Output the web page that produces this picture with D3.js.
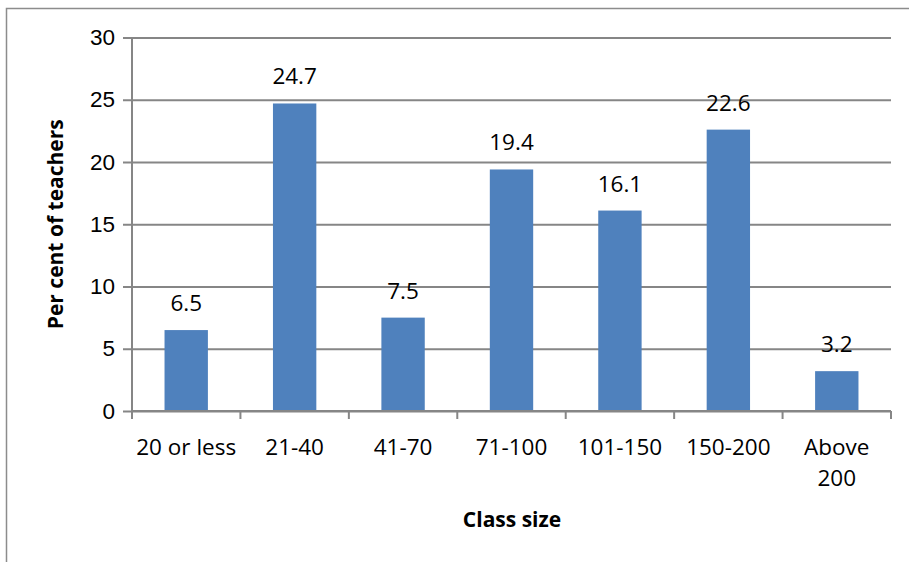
<!DOCTYPE html>
<html>
<head>
<meta charset="utf-8">
<script src="https://cdn.jsdelivr.net/npm/d3@7"></script>
<style>
  html, body { margin: 0; padding: 0; background: #fff; }
  svg { display: block; font-family: "Open Sans", Lato, sans-serif; }
</style>
</head>
<body>
<svg id="chart" width="909" height="562"></svg>
<script>
// Share of teachers by class size
const categories = ["20 or less", "21-40", "41-70", "71-100", "101-150", "150-200", "Above 200"];
const percentValues = [6.5, 24.7, 7.5, 19.4, 16.1, 22.6, 3.2];
const yTicks = [0, 5, 10, 15, 20, 25, 30];

const svg = d3.select("#chart");
const margin = { left: 132, right: 18, top: 37.5, bottom: 151 };
const W = 909, H = 562;
const labelSize = 22.5;

// outer chart frame (runs off the right and bottom edges)
svg.append("rect")
  .attr("x", 6.5).attr("y", 8.5)
  .attr("width", 960).attr("height", 600)
  .attr("fill", "none").attr("stroke", "#8c8c8c").attr("stroke-width", 1.5);

const x = d3.scaleBand()
  .domain(categories)
  .range([margin.left, W - margin.right])
  .paddingInner(0.6).paddingOuter(0.3);

const y = d3.scaleLinear()
  .domain([0, 30])
  .range([H - margin.bottom, margin.top]);

// horizontal gridlines and y axis
const yAxis = d3.axisLeft(y)
  .tickValues(yTicks)
  .tickSize(-(W - margin.right - margin.left))
  .tickPadding(17)
  .tickFormat(d3.format("d"));

const gy = svg.append("g")
  .attr("transform", `translate(${margin.left},0)`)
  .call(yAxis);
gy.select(".domain").remove();
gy.selectAll(".tick line")
  .attr("x1", -9)
  .attr("stroke", "#868686").attr("stroke-width", 2);
gy.selectAll(".tick text")
  .attr("font-size", labelSize).attr("fill", "#000");

// vertical axis line
svg.append("line")
  .attr("x1", margin.left).attr("x2", margin.left)
  .attr("y1", y(30)).attr("y2", y(0))
  .attr("stroke", "#868686").attr("stroke-width", 2);

// bars
svg.append("g").selectAll("rect")
  .data(percentValues)
  .join("rect")
  .attr("x", (d, i) => x(categories[i]))
  .attr("width", x.bandwidth())
  .attr("y", d => y(d))
  .attr("height", d => y(0) - y(d))
  .attr("fill", "#4f81bd");

// value labels
svg.append("g").selectAll("text")
  .data(percentValues)
  .join("text")
  .attr("x", (d, i) => x(categories[i]) + x.bandwidth() / 2)
  .attr("y", d => y(d) - 19)
  .attr("text-anchor", "middle")
  .attr("font-size", labelSize)
  .attr("fill", "#000")
  .text(d => d3.format(".1f")(d));

// x axis with category boundary ticks
const step = (W - margin.right - margin.left) / categories.length;
const gx = svg.append("g");
gx.append("line")
  .attr("x1", margin.left).attr("x2", W - margin.right)
  .attr("y1", y(0)).attr("y2", y(0))
  .attr("stroke", "#868686").attr("stroke-width", 2);
gx.selectAll("line.cat")
  .data(d3.range(categories.length + 1))
  .join("line")
  .attr("class", "cat")
  .attr("x1", i => margin.left + i * step).attr("x2", i => margin.left + i * step)
  .attr("y1", y(0)).attr("y2", y(0) + 8)
  .attr("stroke", "#868686").attr("stroke-width", 2);

// category labels; two-word labels wrap onto a second line
const catLines = { "Above 200": ["Above", "200"] };
const gl = gx.selectAll("text.cat")
  .data(categories)
  .join("text")
  .attr("class", "cat")
  .attr("text-anchor", "middle")
  .attr("font-size", labelSize)
  .attr("fill", "#000");
gl.each(function(c) {
  const lines = catLines[c] || [c];
  const t = d3.select(this);
  lines.forEach((ln, k) => {
    t.append("tspan")
      .attr("x", x(c) + x.bandwidth() / 2)
      .attr("y", y(0) + 44 + k * 31)
      .text(ln);
  });
});

// axis titles
svg.append("text")
  .attr("transform", `translate(63,${(y(0) + y(30)) / 2}) rotate(-90)`)
  .attr("text-anchor", "middle")
  .attr("font-size", 21).attr("font-weight", "bold")
  .text("Per cent of teachers");

svg.append("text")
  .attr("x", 512).attr("y", 527)
  .attr("text-anchor", "middle")
  .attr("font-size", 21).attr("font-weight", "bold")
  .text("Class size");
</script>
</body>
</html>
